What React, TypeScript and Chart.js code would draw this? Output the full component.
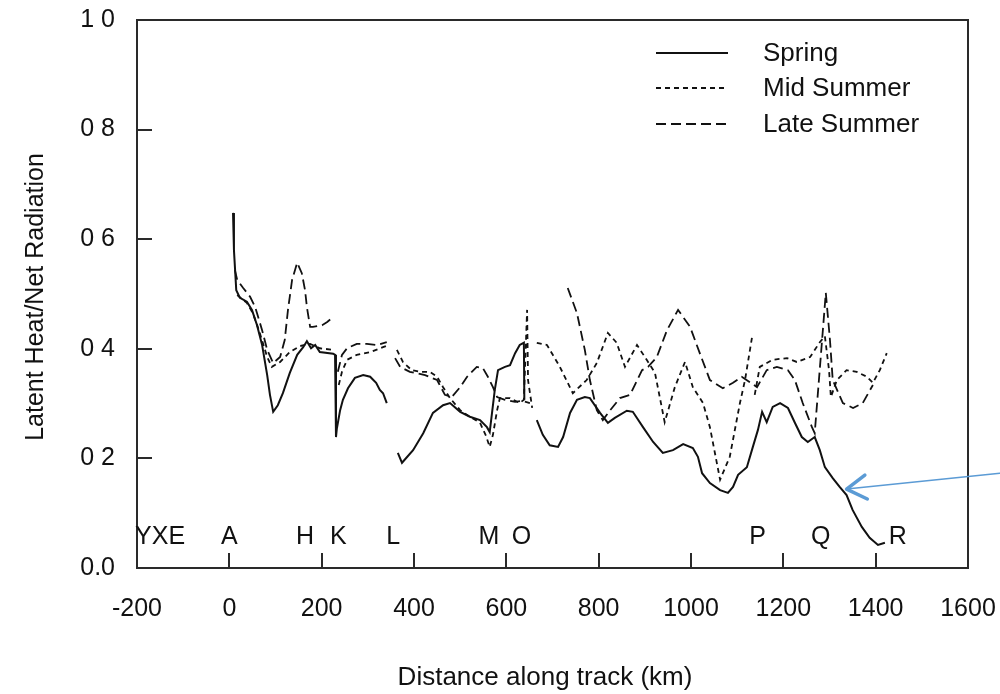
import React, { useEffect, useRef } from 'react';
import { Chart, registerables } from 'chart.js';

Chart.register(...registerables);

const FONT = '"Liberation Sans", Arial, Helvetica, sans-serif';
const INK = '#111111';

// Axis tick labels
const yTickLabels = ['0.0', '0 2', '0 4', '0 6', '0 8', '1 0'];

// Spring: distance along track (km) and latent heat / net radiation (null = gap in the record)
const springDist = [
  8, 10, 15, 23, 38, 49, 60, 71, 82, 88, 95, 105, 116, 131, 147, 160, 168, 177, 186, 196,
  225, 229, 231, 233, 240, 246, 257, 272, 290, 305, 318, 326, 333, 341, 353,
  365, 374, 398, 420, 441, 463, 478, 500, 521, 543, 558, 564, 575, 582, 597, 608, 619, 629, 638, 639, 652,
  666, 679, 694, 712, 723, 738, 753, 770, 781, 803, 820, 835, 861, 874, 896, 918, 939, 961, 983, 1004,
  1015, 1024, 1041, 1063, 1080, 1091, 1102, 1121, 1134, 1145, 1154, 1164, 1177, 1193, 1210, 1225, 1240, 1253, 1268, 1279,
  1290, 1307, 1322, 1337, 1350, 1370, 1387, 1405, 1420,
];
const springRatio = [
  0.648, 0.58, 0.507, 0.493, 0.486, 0.471, 0.443, 0.407, 0.352, 0.316, 0.285, 0.297, 0.319, 0.356, 0.389, 0.403, 0.414, 0.401, 0.407, 0.394,
  0.391, 0.389, 0.239, 0.255, 0.288, 0.307, 0.328, 0.347, 0.352, 0.349, 0.338, 0.325, 0.319, 0.301, null,
  0.21, 0.192, 0.215, 0.246, 0.283, 0.297, 0.301, 0.285, 0.276, 0.27, 0.257, 0.248, 0.325, 0.361, 0.367, 0.37, 0.392, 0.407, 0.411, 0.307, null,
  0.27, 0.243, 0.224, 0.221, 0.239, 0.283, 0.307, 0.312, 0.31, 0.283, 0.265, 0.274, 0.287, 0.285, 0.257, 0.23, 0.21, 0.215, 0.226, 0.219,
  0.203, 0.173, 0.155, 0.142, 0.137, 0.148, 0.17, 0.184, 0.221, 0.252, 0.285, 0.266, 0.294, 0.301, 0.292, 0.265, 0.239, 0.23, 0.239, 0.215,
  0.184, 0.164, 0.148, 0.133, 0.106, 0.075, 0.055, 0.042, 0.046,
];

// Mid Summer
const midDist = [
  17, 38, 51, 66, 82, 92, 110, 131, 153, 175, 196, 225, 231,
  237, 244, 255, 276, 305, 333, 346, 355,
  363, 376, 395, 413, 434, 450, 463, 478, 500, 521, 543, 556, 564, 571, 580, 586, 608, 629, 638, 645, 647, 656, 660,
  666, 688, 716, 744, 774, 796, 820, 839, 857, 883, 904, 922, 943, 965, 987, 1004, 1026, 1041, 1063, 1084, 1106, 1117, 1132, 1135,
  1138, 1149, 1177, 1208, 1229, 1258, 1279, 1290, 1299, 1303, 1316, 1337, 1359, 1381, 1394, 1409, 1424,
];
const midRatio = [
  0.498, 0.484, 0.465, 0.429, 0.385, 0.367, 0.376, 0.394, 0.405, 0.409, 0.401, 0.398, null,
  0.334, 0.358, 0.38, 0.389, 0.394, 0.403, 0.407, null,
  0.398, 0.376, 0.361, 0.358, 0.358, 0.349, 0.33, 0.31, 0.288, 0.276, 0.265, 0.241, 0.221, 0.243, 0.288, 0.31, 0.31, 0.301, 0.307, 0.471, 0.343, 0.292, null,
  0.411, 0.407, 0.367, 0.319, 0.343, 0.374, 0.429, 0.411, 0.367, 0.407, 0.38, 0.356, 0.266, 0.33, 0.376, 0.33, 0.301, 0.257, 0.161, 0.203, 0.301, 0.343, 0.42, null,
  0.316, 0.367, 0.38, 0.383, 0.376, 0.385, 0.412, 0.423, 0.361, 0.312, 0.343, 0.361, 0.358, 0.349, 0.338, 0.361, 0.392,
];

// Late Summer
const lateDist = [
  12, 17, 30, 45, 56, 71, 82, 95, 110, 120, 127, 136, 147, 157, 164, 168, 175, 181, 201, 212, 222, 228,
  235, 244, 255, 276, 298, 320, 341, 350,
  359, 370, 391, 424, 450, 467, 482, 500, 515, 536, 549, 560, 571, 580, 597, 619, 634, 651, 700,
  733, 753, 770, 781, 796, 809, 825, 846, 868, 894, 907, 926, 948, 972, 998, 1019, 1041, 1069, 1091, 1110,
  1143, 1164, 1186, 1210, 1225, 1242, 1262, 1268, 1292, 1301, 1307, 1329, 1351, 1372, 1394,
];
const lateRatio = [
  0.544, 0.526, 0.511, 0.495, 0.476, 0.434, 0.398, 0.374, 0.385, 0.416, 0.471, 0.526, 0.557, 0.538, 0.507, 0.476, 0.44, 0.44, 0.443, 0.449, 0.456, null,
  0.358, 0.389, 0.401, 0.409, 0.409, 0.407, 0.412, null,
  0.383, 0.367, 0.358, 0.352, 0.343, 0.316, 0.312, 0.33, 0.349, 0.367, 0.365, 0.349, 0.33, 0.312, 0.307, 0.303, 0.305, 0.301, null,
  0.511, 0.465, 0.398, 0.343, 0.288, 0.27, 0.288, 0.31, 0.316, 0.361, 0.367, 0.385, 0.434, 0.471, 0.44, 0.392, 0.343, 0.328, 0.338, 0.349,
  0.33, 0.361, 0.367, 0.361, 0.343, 0.301, 0.257, 0.246, 0.502, 0.416, 0.343, 0.301, 0.292, 0.301, 0.334,
];

// Stations along the track
const stationNames = ['YXE', 'A', 'H', 'K', 'L', 'M', 'O', 'P', 'Q', 'R'];
const stationDist = [-150, 0, 164, 236, 355, 562, 633, 1144, 1281, 1448];
const stationRowLevel = 0.057;

// Pointer arrow (tail -> head) in data units
const arrowTail = { x: 1669, y: 0.173 };
const arrowHead = { x: 1337, y: 0.144 };

const toPoints = (dist: number[], ratio: (number | null)[]) =>
  dist.map((d, i) => ({ x: d, y: ratio[i] }));

const decorations = {
  id: 'decorations',
  afterDatasetsDraw(chart: any) {
    const { ctx, chartArea: a, scales } = chart;
    const x = scales.x;
    const y = scales.y;
    ctx.save();

    // Plot frame
    ctx.strokeStyle = '#2a2a2a';
    ctx.lineWidth = 2;
    ctx.strokeRect(a.left, a.top, a.right - a.left, a.bottom - a.top);

    // Inward tick marks
    ctx.beginPath();
    x.ticks.forEach((t: any) => {
      if (t.value > x.min && t.value < x.max) {
        const px = Math.round(x.getPixelForValue(t.value));
        ctx.moveTo(px, a.bottom);
        ctx.lineTo(px, a.bottom - 15);
      }
    });
    y.ticks.forEach((t: any) => {
      if (t.value > y.min + 1e-9 && t.value < y.max - 1e-9) {
        const py = Math.round(y.getPixelForValue(t.value));
        ctx.moveTo(a.left, py);
        ctx.lineTo(a.left + 15, py);
      }
    });
    ctx.stroke();

    // Station letters
    ctx.fillStyle = INK;
    ctx.font = `25px ${FONT}`;
    ctx.textAlign = 'center';
    ctx.textBaseline = 'middle';
    const rowY = y.getPixelForValue(stationRowLevel);
    stationNames.forEach((name, i) => {
      ctx.fillText(name, x.getPixelForValue(stationDist[i]), rowY);
    });

    // Legend
    const legendX0 = 656;
    const legendX1 = 728;
    const legendTextX = 763;
    const rows = [54, 89, 125];
    chart.data.datasets.forEach((ds: any, i: number) => {
      const ry = rows[i];
      ctx.strokeStyle = ds.borderColor;
      ctx.lineWidth = ds.borderWidth;
      ctx.setLineDash(ds.borderDash || []);
      ctx.beginPath();
      ctx.moveTo(legendX0, ry - 1);
      ctx.lineTo(legendX1, ry - 1);
      ctx.stroke();
      ctx.setLineDash([]);
      ctx.fillStyle = INK;
      ctx.font = `26px ${FONT}`;
      ctx.textAlign = 'left';
      ctx.textBaseline = 'middle';
      ctx.fillText(ds.label, legendTextX, ry);
    });

    // Axis titles
    ctx.fillStyle = INK;
    ctx.font = `26px ${FONT}`;
    ctx.textAlign = 'center';
    ctx.textBaseline = 'middle';
    ctx.fillText('Distance along track (km)', 545, 678);
    ctx.save();
    ctx.translate(36, 297);
    ctx.rotate(-Math.PI / 2);
    ctx.font = `25px ${FONT}`;
    ctx.fillText('Latent Heat/Net Radiation', 0, 0);
    ctx.restore();

    // Blue pointer arrow
    const tx = x.getPixelForValue(arrowTail.x);
    const ty = y.getPixelForValue(arrowTail.y);
    const hx = x.getPixelForValue(arrowHead.x);
    const hy = y.getPixelForValue(arrowHead.y);
    const ang = Math.atan2(ty - hy, tx - hx);
    ctx.strokeStyle = '#5b9bd5';
    ctx.lineCap = 'round';
    ctx.lineJoin = 'round';
    ctx.lineWidth = 1.5;
    ctx.beginPath();
    ctx.moveTo(tx, ty);
    ctx.lineTo(hx, hy);
    ctx.stroke();
    ctx.lineWidth = 3.5;
    ctx.beginPath();
    const headLen = 23;
    const spread = 0.55;
    ctx.moveTo(hx + headLen * Math.cos(ang - spread), hy + headLen * Math.sin(ang - spread));
    ctx.lineTo(hx, hy);
    ctx.lineTo(hx + headLen * Math.cos(ang + spread), hy + headLen * Math.sin(ang + spread));
    ctx.stroke();

    ctx.restore();
  },
};

// Pin axis box sizes and drop tick-label overflow padding so the plot box sits exactly.
const pinScale = (size: { width?: number; height?: number }) => (scale: any) => {
  if (size.width !== undefined) scale.width = size.width;
  if (size.height !== undefined) scale.height = size.height;
  scale.paddingTop = 0;
  scale.paddingBottom = 0;
  scale.paddingLeft = 0;
  scale.paddingRight = 0;
};

export default function App() {
  const canvasRef = useRef<HTMLCanvasElement | null>(null);

  useEffect(() => {
    if (!canvasRef.current) return;
    const lineBase = {
      borderColor: INK,
      borderWidth: 2,
      pointRadius: 0,
      tension: 0,
      spanGaps: false,
      fill: false,
    };
    const chart = new Chart(canvasRef.current, {
      type: 'line',
      data: {
        datasets: [
          { ...lineBase, label: 'Spring', data: toPoints(springDist, springRatio), borderDash: [] },
          { ...lineBase, label: 'Mid Summer', data: toPoints(midDist, midRatio), borderDash: [5, 4], borderWidth: 1.8 },
          { ...lineBase, label: 'Late Summer', data: toPoints(lateDist, lateRatio), borderDash: [10, 5], borderWidth: 1.8 },
        ] as any,
      },
      options: {
        animation: false,
        responsive: false,
        devicePixelRatio: 1,
        parsing: false as any,
        layout: { padding: { left: 0, top: 20, right: 32, bottom: 0 } },
        plugins: { legend: { display: false }, tooltip: { enabled: false } },
        scales: {
          x: {
            type: 'linear',
            min: -200,
            max: 1600,
            grid: { display: false },
            border: { display: false },
            ticks: {
              stepSize: 200,
              autoSkip: false,
              maxRotation: 0,
              padding: 18,
              color: INK,
              font: { family: FONT, size: 25 },
              callback: (v: any) => String(v),
            },
            afterFit: pinScale({ height: 126 }),
          },
          y: {
            type: 'linear',
            min: 0,
            max: 1,
            grid: { display: false },
            border: { display: false },
            ticks: {
              stepSize: 0.2,
              padding: 14,
              color: INK,
              font: { family: FONT, size: 25 },
              callback: (_v: any, i: number) => yTickLabels[i],
            },
            afterFit: pinScale({ width: 137 }),
          },
        },
      },
      plugins: [decorations],
    });
    return () => chart.destroy();
  }, []);

  return (
    <div style={{ position: 'fixed', left: 0, top: 0, width: 1000, height: 694, background: '#fff' }}>
      <canvas ref={canvasRef} width={1000} height={694} style={{ display: 'block' }} />
    </div>
  );
}
